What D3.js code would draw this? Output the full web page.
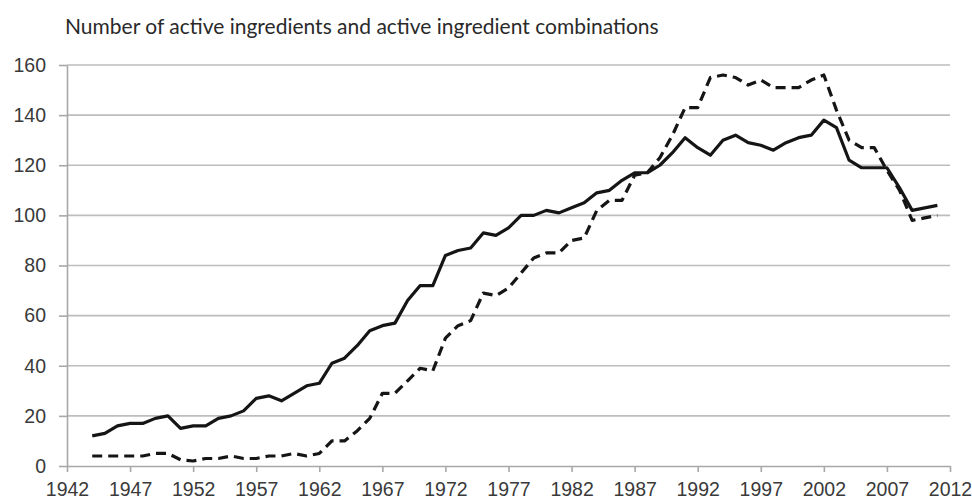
<!doctype html>
<html lang="en">
<head>
  <meta charset="utf-8">
  <title>Active ingredients</title>
  <style>
    body { margin: 0; background: #fff; }
    svg { display: block; font-family: Lato, "Open Sans", sans-serif; }
    .grid line { stroke: #bdbdbd; stroke-width: 1.6; }
    .axis path, .axis line { stroke: #a8a8a8; stroke-width: 1.6; }
    .axis text { fill: #3a3a3a; font-size: 19.5px; }
    .series { fill: none; stroke: #151515; stroke-width: 3.2; stroke-linejoin: round; }
  </style>
</head>
<body>
  <div id="chart"></div>
  <script src="https://cdn.jsdelivr.net/npm/d3@7"></script>
  <script>
(function(){

  var years = d3.range(1944, 2012);

  // solid line
  var ingredients = [12, 13, 16, 17, 17, 19, 20, 15, 16, 16,
    19, 20, 22, 27, 28, 26, 29, 32, 33, 41,
    43, 48, 54, 56, 57, 66, 72, 72, 84, 86,
    87, 93, 92, 95, 100, 100, 102, 101, 103, 105,
    109, 110, 114, 117, 117, 120, 125, 131, 127, 124,
    130, 132, 129, 128, 126, 129, 131, 132, 138, 135,
    122, 119, 119, 119, 111, 102, 103, 104];

  // dashed line
  var combinations = [4, 4, 4, 4, 4, 5, 5, 2.5, 2, 3,
    3, 4, 3, 3, 4, 4, 5, 4, 5, 10,
    10, 14, 19, 29, 29, 34, 39, 38, 51, 56,
    58, 69, 68, 71, 77, 83, 85, 85, 90, 91,
    102, 106, 106, 116, 117, 123, 132, 143, 143, 155,
    156, 155, 152, 154, 151, 151, 151, 154, 156, 142,
    130, 127, 127, 118, 110, 98, 99, 100];

  var xTicks = d3.range(1942, 2013, 5);
  var yTicks = d3.range(0, 161, 20);

  var width = 972, height = 503;
  var margin = {top: 65, right: 22, bottom: 37, left: 67};

  var x = d3.scaleLinear().domain([1942, 2012]).range([margin.left, width - margin.right]);
  var y = d3.scaleLinear().domain([0, 160]).range([height - margin.bottom, margin.top]);

  var svg = d3.select("#chart")
      .append("svg")
      .attr("width", width)
      .attr("height", height);

  svg.append("text")
      .attr("x", 65)
      .attr("y", 34)
      .attr("fill", "#2a2a2a")
      .style("font-size", "21px")
      .text("Number of active ingredients and active ingredient combinations");

  svg.append("g")
      .attr("class", "grid")
      .selectAll("line")
      .data(yTicks.slice(1))
      .enter().append("line")
      .attr("x1", x(1942)).attr("x2", x(2012))
      .attr("y1", function(d) { return y(d); })
      .attr("y2", function(d) { return y(d); });

  svg.append("g")
      .attr("class", "axis")
      .attr("transform", "translate(" + margin.left + ",0)")
      .call(d3.axisLeft(y).tickValues(yTicks).tickSize(8).tickPadding(13).tickSizeOuter(0));

  svg.append("g")
      .attr("class", "axis")
      .attr("transform", "translate(0," + y(0) + ")")
      .call(d3.axisBottom(x).tickValues(xTicks).tickFormat(d3.format("d")).tickSize(6).tickPadding(10).tickSizeOuter(0));

  var line = d3.line()
      .x(function(d, i) { return x(years[i]); })
      .y(function(d) { return y(d); });

  svg.append("path")
      .datum(combinations)
      .attr("class", "series")
      .attr("stroke-dasharray", "10,6")
      .attr("d", line);

  svg.append("path")
      .datum(ingredients)
      .attr("class", "series")
      .attr("d", line);

})();
  </script>
</body>
</html>
